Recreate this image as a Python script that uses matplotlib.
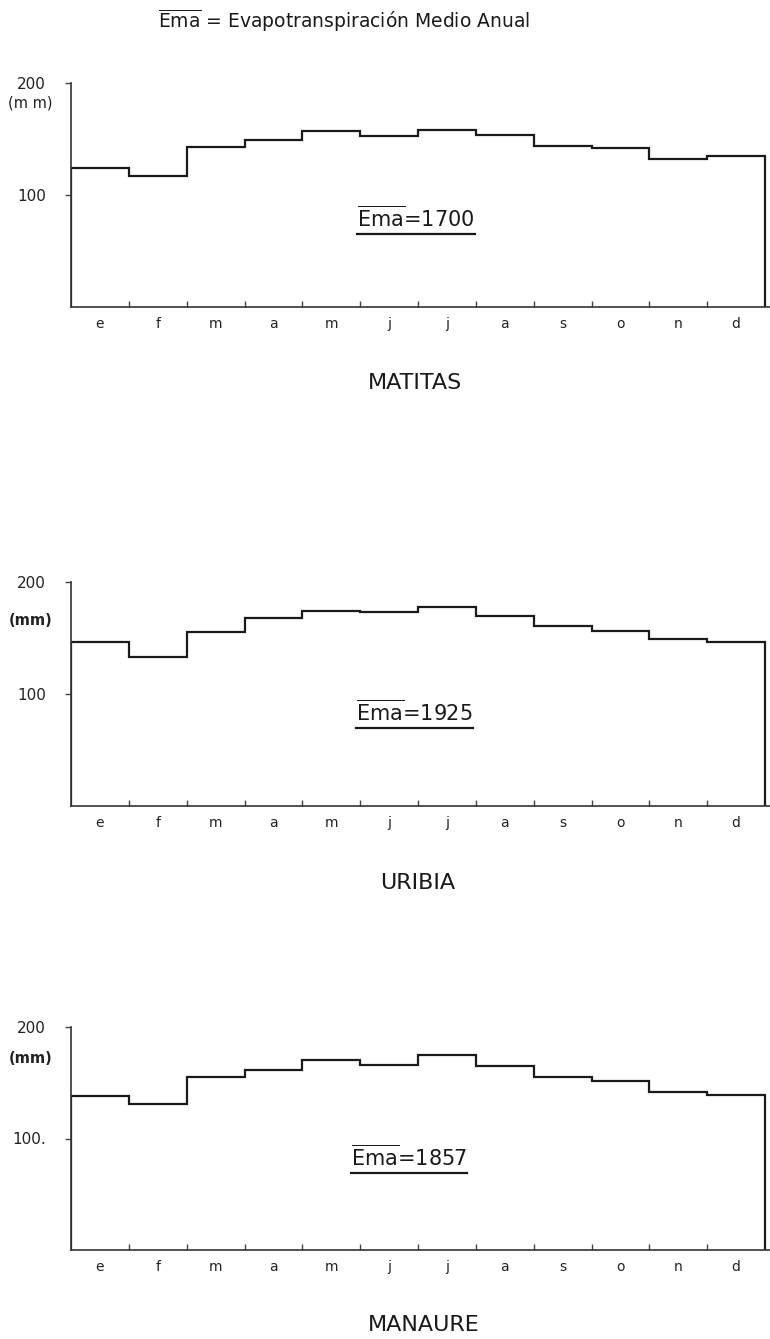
import numpy as np
import matplotlib
matplotlib.use("Agg")
import matplotlib.pyplot as plt
from matplotlib.lines import Line2D

# ---- data ----
months = ["e", "f", "m", "a", "m", "j", "j", "a", "s", "o", "n", "d"]
stations = ["MATITAS", "URIBIA", "MANAURE"]
ema_totals = [1700, 1925, 1857]
matitas = [124, 117, 143, 149, 157, 153, 158, 154, 144, 142, 132, 135]
uribia = [146, 133, 155, 168, 174, 173, 178, 170, 161, 156, 149, 146]
manaure = [138, 131, 155, 161, 170, 166, 175, 165, 155, 152, 142, 139]
series = [matitas, uribia, manaure]
ytick_values = [100, 200]
ytick_labels = [["100", "200"], ["100", "200"], ["100.", "200"]]
unit_labels = ["(m m)", "(mm)", "(mm)"]
header = r"$\overline{\mathrm{Ema}}$ = Evapotranspiración Medio Anual"

W, H = 770, 1339
fig = plt.figure(figsize=(W / 100, H / 100), dpi=100)
plt.rcParams['font.family'] = ['DejaVu Sans']
plt.rcParams['mathtext.fontset'] = 'dejavusans'

# layout in pixels: (top, bottom) of each axes
ax_px = [(83, 307), (582, 806), (1027, 1250)]
left_px, data_right_px, right_px = 71, 765, 770
unit_y = [182, 166, 172]
ema_pos = [(4.95, 79.5), (4.93, 84), (4.85, 83.5)]
title_px = [(415, 383), (418, 883), (424, 1325)]

ink = "#1a1a1a"
axes = []
for i, vals in enumerate(series):
    top, bot = ax_px[i]
    ax = fig.add_axes([left_px / W, 1 - bot / H, (right_px - left_px) / W, (bot - top) / H])
    axes.append(ax)
    n = len(vals)
    edges = np.arange(n + 1)
    ax.stairs(vals, edges, baseline=0, color=ink, lw=1.6)
    ax.set_xlim(0, n * (right_px - left_px) / (data_right_px - left_px))
    ax.set_ylim(0, 200)
    for s in ["top", "right"]:
        ax.spines[s].set_visible(False)
    for s in ["left", "bottom"]:
        ax.spines[s].set_color("#333333")
        ax.spines[s].set_linewidth(1.2)
    ax.set_xticks(edges[1:-1])
    ax.set_xticklabels([])
    ax.tick_params(axis="x", which="major", direction="in", length=4, width=1, color="#444")
    ax.set_xticks(edges[:-1] + 0.5, minor=True)
    ax.set_xticklabels(months, minor=True, fontsize=10, color="#222")
    ax.tick_params(axis="x", which="minor", length=0, pad=7)
    ax.set_yticks(ytick_values)
    ax.set_yticklabels(ytick_labels[i], fontsize=11, color="#222")
    ax.tick_params(axis="y", direction="out", length=4, width=1, color="#444", pad=14)
    ax.text(-0.32, unit_y[i], unit_labels[i], fontsize=10.5, color="#222",
            ha="right", va="center", fontweight="bold" if i else "normal")
    ax.text(ema_pos[i][0], ema_pos[i][1],
            r"$\overline{\mathrm{Ema}}$" + "=" + str(ema_totals[i]),
            fontsize=15, color=ink, ha="left", va="center", gid="ema%d" % i)
    fig.text(title_px[i][0] / W, 1 - title_px[i][1] / H, stations[i],
             fontsize=16, color=ink, ha="center", va="center")

fig.text(158 / W, 1 - 21 / H, header, fontsize=13.5, color=ink, ha="left", va="center")

# underline each Ema label
fig.canvas.draw()
renderer = fig.canvas.get_renderer()
for ax in axes:
    for t in ax.texts:
        if t.get_gid() and t.get_gid().startswith("ema"):
            bb = t.get_window_extent(renderer)
            y = bb.y0 - 3
            fig.add_artist(Line2D([bb.x0 / W, bb.x1 / W], [y / H, y / H],
                                  transform=fig.transFigure, color=ink, lw=1.6))

fig.savefig("out.png", dpi=100, facecolor="white")
